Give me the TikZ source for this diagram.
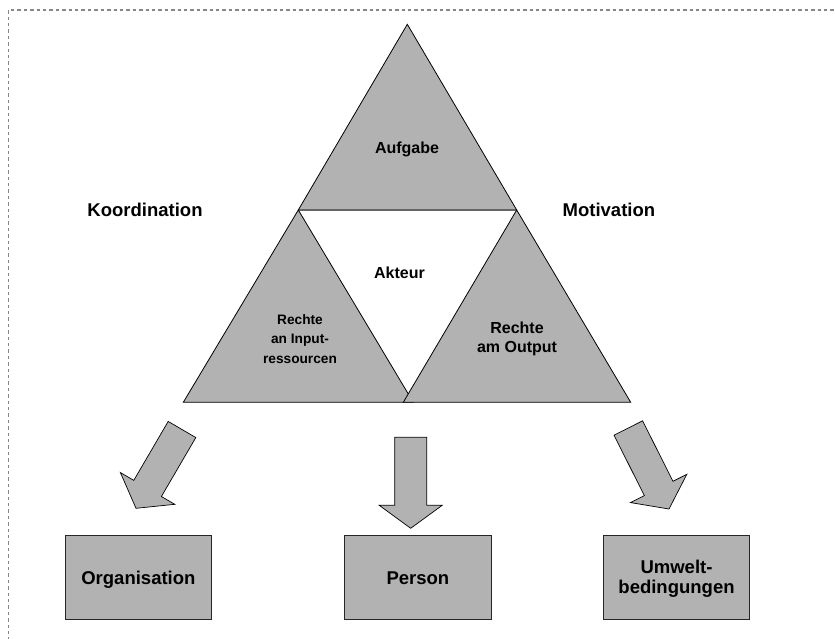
\documentclass[tikz,border=0pt]{standalone}
\usepackage{fontspec}
\setmainfont{Liberation Sans}
\usetikzlibrary{calc}

\definecolor{panelgray}{RGB}{178,178,178}
\definecolor{framegray}{RGB}{135,135,135}
\definecolor{seamgray}{RGB}{100,100,100}

\tikzset{
  frame/.style={draw=framegray, line width=1.4pt, dash pattern=on 3.4pt off 3pt},
  tri/.style={fill=panelgray, draw=black, line width=0.8pt, line join=miter},
  seam/.style={draw=seamgray, line width=1.8pt},
  box/.style={fill=panelgray, draw=black!85, line width=0.9pt,
              minimum width=146.7pt, minimum height=84pt, inner sep=0pt},
  bigarrow/.style={fill=panelgray, draw=black, line width=0.7pt, line join=miter},
  biglbl/.style={font=\bfseries\fontsize{18.5}{20}\selectfont,
                 inner sep=0pt, anchor=base, align=center},
  midlbl/.style={font=\bfseries\fontsize{16}{19.4}\selectfont,
                 inner sep=0pt, anchor=base, align=center},
  smalllbl/.style={font=\bfseries\fontsize{13.7}{19.5}\selectfont,
                   inner sep=0pt, anchor=base, align=center},
}

% broad block arrow from tail (#1) to tip (#2):
% shaft 32pt wide, head 63pt wide and 23pt long
\newcommand\blockarrow[2]{%
  \draw[bigarrow]
    ($(#1)!16pt!90:(#2)$) --
    ($(#2)!23pt!(#1)!16pt!-90:(#1)$) --
    ($(#2)!23pt!(#1)!31.5pt!-90:(#1)$) --
    (#2) --
    ($(#2)!23pt!(#1)!31.5pt!90:(#1)$) --
    ($(#2)!23pt!(#1)!16pt!90:(#1)$) --
    ($(#1)!16pt!-90:(#2)$) -- cycle;%
}

\begin{document}
\begin{tikzpicture}[x=1pt, y=-1pt]
  \useasboundingbox (0,0) rectangle (835,639);

  % dashed outer frame (open to the right and bottom)
  \draw[frame] (8.3,660) |- (860,10);

  % corner points of the three triangles
  \coordinate (apex) at (407.3,24.3);
  \coordinate (lv)   at (298.3,210);
  \coordinate (rv)   at (516.7,210);
  \coordinate (lb1)  at (183.3,402.3);
  \coordinate (lb2)  at (413.3,402.3);
  \coordinate (rb1)  at (403.3,402.3);
  \coordinate (rb2)  at (630.7,402.3);

  % upper triangle
  \fill[panelgray] (apex) -- (lv) -- (rv) -- cycle;
  \draw[seam] (lv) -- (rv);
  \draw[line width=0.8pt] (lv) -- (apex) -- (rv);

  % lower triangles
  \draw[tri] (lv) -- (lb1) -- (lb2) -- cycle;
  \draw[tri] (rv) -- (rb1) -- (rb2) -- cycle;

  % labels in and around the triangles (multi-line labels sit on their last baseline)
  \node[midlbl] (aufgabe) at (407,153.3) {Aufgabe};
  \node[midlbl] (akteur)  at (399.5,278.3) {Akteur};
  \node[smalllbl] (input) at (300,363) {Rechte\hspace{1.2em}\\an Input-\\ressourcen};
  \node[midlbl] (output)  at (517,352.7) {Rechte\\am Output};
  \node[biglbl] (koord)   at (145,216) {Koordination};
  \node[biglbl] (motiv)   at (608.9,216) {Motivation};

  % boxes
  \node[box] (org)    at (138.3,577) {};
  \node[box] (person) at (417.9,577) {};
  \node[box] (umwelt) at (676.4,577) {};
  \node[biglbl] (orgtxt)    at (138.4,584.3) {Organisation};
  \node[biglbl] (persontxt) at (417.9,584.3) {Person};
  \node[biglbl] (umwelttxt) at (676.5,593.3) {Umwelt-\\bedingungen};

  % block arrows
  \coordinate (ta1) at (182,429.5);   \coordinate (tp1) at (136,508.3);
  \coordinate (ta2) at (410.7,437.3); \coordinate (tp2) at (410.7,528.3);
  \coordinate (ta3) at (628.3,428);   \coordinate (tp3) at (669,509);
  \blockarrow{ta1}{tp1}
  \blockarrow{ta2}{tp2}
  \blockarrow{ta3}{tp3}
\end{tikzpicture}
\end{document}
